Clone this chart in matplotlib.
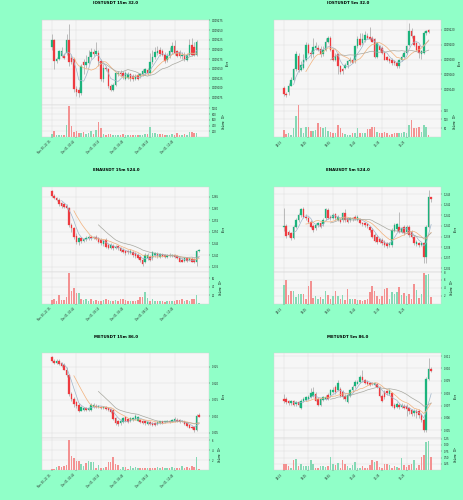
import matplotlib
matplotlib.use("Agg")
import matplotlib.pyplot as plt
import numpy as np
import pandas as pd

# ---- IOSTUSDT 15m (prices in 1e-6 USDT) -----------------------------------
iost15_open = [9206, 9223, 9169, 9175, 9184, 9184, 9190, 9224, 9177, 9174,
               9097, 9095, 9086, 9167, 9160, 9165, 9180, 9192, 9188, 9190,
               9169, 9123, 9152, 9148, 9104, 9096, 9107, 9135, 9140, 9138,
               9124, 9127, 9135, 9131, 9123, 9133, 9130, 9135, 9138, 9146,
               9138, 9167, 9180, 9190, 9199, 9195, 9186, 9172, 9182, 9192,
               9209, 9195, 9192, 9182, 9186, 9172, 9186, 9212, 9207, 9186]
iost15_close = [9223, 9169, 9175, 9195, 9195, 9178, 9224, 9167, 9167, 9097,
                9089, 9086, 9157, 9160, 9167, 9180, 9192, 9188, 9195, 9169,
                9123, 9152, 9148, 9104, 9096, 9107, 9138, 9140, 9135, 9130,
                9138, 9135, 9124, 9123, 9131, 9124, 9135, 9144, 9148, 9138,
                9167, 9180, 9192, 9197, 9189, 9186, 9169, 9182, 9195, 9209,
                9190, 9184, 9182, 9186, 9174, 9186, 9212, 9186, 9186, 9218]
iost15_high = [9241, 9226, 9180, 9199, 9207, 9190, 9241, 9265, 9186, 9178,
               9104, 9102, 9161, 9175, 9186, 9199, 9203, 9201, 9220, 9199,
               9174, 9161, 9157, 9152, 9110, 9114, 9141, 9144, 9146, 9144,
               9144, 9141, 9140, 9135, 9135, 9138, 9140, 9150, 9152, 9152,
               9190, 9199, 9207, 9209, 9207, 9201, 9192, 9190, 9206, 9220,
               9223, 9199, 9199, 9192, 9192, 9190, 9226, 9229, 9220, 9224]
iost15_low = [9199, 9148, 9165, 9172, 9180, 9174, 9186, 9157, 9161, 9089,
              9079, 9076, 9083, 9135, 9152, 9161, 9174, 9182, 9186, 9157,
              9118, 9116, 9144, 9099, 9092, 9093, 9104, 9130, 9130, 9123,
              9121, 9123, 9118, 9118, 9120, 9121, 9126, 9131, 9133, 9133,
              9135, 9161, 9174, 9186, 9184, 9182, 9165, 9168, 9178, 9189,
              9186, 9180, 9178, 9175, 9169, 9169, 9184, 9184, 9182, 9184]
iost15_vol = [118, 212, 59, 82, 59, 71, 435, 1082, 388, 176,
              200, 153, 141, 176, 118, 153, 200, 118, 259, 541,
              318, 94, 82, 94, 94, 71, 59, 59, 82, 94,
              71, 59, 82, 59, 71, 59, 71, 82, 106, 94,
              353, 141, 141, 94, 118, 118, 59, 59, 71, 118,
              82, 141, 71, 59, 94, 71, 176, 165, 153, 141]

# ---- IOSTUSDT 5m (prices in 1e-6 USDT) ------------------------------------
iost5_open = [9142, 9134, 9136, 9145, 9153, 9167, 9185, 9166, 9169, 9180,
              9199, 9189, 9187, 9196, 9196, 9194, 9187, 9193, 9204, 9209,
              9193, 9180, 9187, 9171, 9167, 9169, 9172, 9178, 9180, 9179,
              9198, 9207, 9202, 9206, 9212, 9210, 9209, 9207, 9184, 9198,
              9196, 9189, 9184, 9181, 9180, 9178, 9176, 9171, 9179, 9184,
              9189, 9200, 9218, 9211, 9202, 9198, 9187, 9189, 9216, 9219]
iost5_close = [9134, 9132, 9145, 9153, 9167, 9188, 9166, 9173, 9180, 9200,
               9189, 9187, 9197, 9198, 9193, 9187, 9193, 9204, 9209, 9193,
               9180, 9185, 9171, 9163, 9165, 9173, 9178, 9180, 9176, 9198,
               9207, 9200, 9207, 9213, 9209, 9208, 9204, 9184, 9202, 9193,
               9189, 9180, 9180, 9178, 9176, 9175, 9171, 9179, 9184, 9189,
               9198, 9218, 9211, 9200, 9193, 9189, 9191, 9216, 9218, 9217]
iost5_high = [9145, 9137, 9149, 9156, 9169, 9191, 9189, 9178, 9187, 9203,
              9202, 9193, 9209, 9204, 9200, 9198, 9198, 9209, 9211, 9211,
              9196, 9189, 9189, 9173, 9169, 9176, 9180, 9184, 9182, 9199,
              9211, 9216, 9216, 9218, 9216, 9224, 9211, 9209, 9204, 9200,
              9198, 9191, 9185, 9182, 9182, 9180, 9178, 9181, 9187, 9191,
              9200, 9229, 9222, 9213, 9204, 9200, 9193, 9218, 9220, 9221]
iost5_low = [9131, 9130, 9133, 9144, 9151, 9165, 9163, 9165, 9167, 9178,
             9187, 9182, 9184, 9193, 9191, 9184, 9185, 9191, 9202, 9191,
             9178, 9178, 9160, 9161, 9161, 9167, 9169, 9176, 9175, 9176,
             9196, 9198, 9200, 9204, 9207, 9206, 9203, 9182, 9182, 9191,
             9187, 9179, 9178, 9176, 9173, 9172, 9169, 9169, 9178, 9182,
             9187, 9198, 9209, 9198, 9191, 9182, 9181, 9187, 9213, 9216]
iost5_vol = [39, 16, 25, 10, 49, 118, 180, 49, 24, 59,
             55, 33, 35, 39, 82, 59, 49, 55, 33, 29,
             25, 24, 69, 49, 24, 16, 12, 10, 20, 24,
             53, 24, 25, 25, 43, 43, 55, 59, 29, 24,
             20, 27, 20, 12, 16, 20, 20, 24, 20, 27,
             24, 69, 94, 49, 49, 55, 29, 69, 59, 10]

# ---- ENAUSDT 15m (prices in 1e-4 USDT) ------------------------------------
ena15_open = [12675, 12655, 12646, 12636, 12622, 12617, 12612, 12600, 12529, 12515,
              12483, 12455, 12472, 12460, 12469, 12472, 12479, 12472, 12479, 12475,
              12465, 12446, 12465, 12443, 12432, 12439, 12429, 12439, 12429, 12422,
              12417, 12417, 12407, 12412, 12407, 12400, 12393, 12379, 12372, 12386,
              12393, 12386, 12400, 12403, 12393, 12400, 12400, 12393, 12400, 12396,
              12400, 12397, 12386, 12379, 12374, 12386, 12379, 12382, 12383, 12372,
              12417]
ena15_close = [12655, 12646, 12636, 12617, 12612, 12607, 12603, 12529, 12515, 12479,
               12457, 12472, 12460, 12469, 12475, 12479, 12472, 12479, 12469, 12457,
               12450, 12460, 12436, 12432, 12443, 12429, 12436, 12429, 12417, 12412,
               12407, 12412, 12417, 12400, 12397, 12389, 12379, 12360, 12400, 12400,
               12379, 12412, 12407, 12397, 12403, 12397, 12393, 12400, 12397, 12400,
               12393, 12386, 12372, 12372, 12386, 12374, 12386, 12372, 12369, 12417,
               12420]
ena15_high = [12679, 12660, 12650, 12643, 12629, 12622, 12617, 12607, 12536, 12522,
              12493, 12479, 12479, 12475, 12483, 12486, 12486, 12483, 12486, 12479,
              12472, 12469, 12472, 12450, 12450, 12446, 12443, 12443, 12436, 12429,
              12422, 12422, 12426, 12417, 12412, 12407, 12400, 12386, 12407, 12407,
              12400, 12417, 12415, 12412, 12407, 12407, 12403, 12403, 12407, 12403,
              12403, 12400, 12393, 12386, 12393, 12393, 12389, 12393, 12389, 12422,
              12426]
ena15_low = [12650, 12640, 12632, 12612, 12603, 12600, 12597, 12522, 12500, 12469,
             12446, 12443, 12450, 12455, 12460, 12465, 12466, 12469, 12465, 12450,
             12443, 12440, 12429, 12426, 12426, 12422, 12426, 12422, 12412, 12407,
             12400, 12403, 12403, 12393, 12389, 12383, 12372, 12354, 12364, 12379,
             12374, 12379, 12393, 12389, 12386, 12393, 12386, 12389, 12393, 12392,
             12389, 12383, 12369, 12369, 12372, 12372, 12374, 12369, 12364, 12354,
             12412]
ena15_vol = [8, 12, 6.4, 20, 8, 8, 16, 72, 29, 36,
             25, 26, 12, 8, 10, 5.6, 10, 6.4, 8, 7.2,
             6.4, 8.8, 10, 8, 7.2, 5.6, 8.8, 6.4, 12, 10,
             8, 6.4, 7.2, 6.4, 7.2, 8, 16, 16, 28, 14.4,
             7.2, 10, 7.2, 5.6, 6.4, 5.6, 4.8, 6.4, 5.6, 6.4,
             5.6, 8, 8.8, 10, 6.4, 8, 7.2, 10, 10, 21,
             1]

# ---- ENAUSDT 5m (prices in 1e-5 USDT) -------------------------------------
ena5_open = [123993, 124002, 123946, 123930, 123890, 123993, 124056, 124103, 124159, 124087,
             124071, 124040, 123999, 123977, 124009, 124024, 124015, 124071, 124150, 124087,
             124078, 124109, 124056, 124056, 124056, 124118, 124071, 124056, 124065, 124087,
             124056, 124056, 124024, 124024, 124015, 123993, 123962, 123915, 123899, 123877,
             123868, 123852, 123836, 123821, 123821, 123952, 123971, 123993, 123946, 123993,
             123946, 123993, 123946, 123899, 123827, 123836, 123821, 123836, 123711, 123993,
             124269]
ena5_close = [124002, 123908, 123915, 123883, 123993, 124056, 124103, 124159, 124087, 124071,
              124040, 123993, 123962, 124009, 124024, 123993, 124056, 124159, 124078, 124071,
              124103, 124071, 124087, 124040, 124118, 124056, 124040, 124071, 124071, 124065,
              124087, 124024, 124015, 124009, 124002, 123962, 123899, 123858, 123846, 123852,
              123836, 123821, 123814, 123836, 123962, 124009, 124015, 123946, 123977, 123930,
              123993, 123915, 123899, 123836, 123852, 123821, 123836, 123711, 123993, 124275,
              124250]
ena5_high = [124172, 124015, 123962, 123946, 124009, 124071, 124118, 124172, 124181, 124109,
             124087, 124056, 124015, 124024, 124040, 124040, 124071, 124172, 124165, 124103,
             124118, 124118, 124103, 124071, 124134, 124159, 124087, 124087, 124087, 124103,
             124103, 124071, 124040, 124034, 124024, 124002, 123977, 123930, 123915, 123890,
             123883, 123868, 123852, 123852, 123977, 124024, 124024, 124134, 123993, 124009,
             124009, 124009, 123962, 123915, 123868, 123852, 123852, 123852, 124009, 124338,
             124275]
ena5_low = [123952, 123890, 123899, 123868, 123877, 123977, 124040, 124087, 124071, 124056,
            124024, 123977, 123946, 123962, 123993, 123977, 124002, 124056, 124065, 124056,
            124065, 124056, 124046, 124024, 124040, 124040, 124024, 124040, 124046, 124056,
            124046, 124015, 124002, 123993, 123984, 123946, 123883, 123846, 123827, 123836,
            123821, 123805, 123789, 123805, 123805, 123946, 123952, 123930, 123930, 123915,
            123930, 123899, 123883, 123821, 123814, 123805, 123814, 123648, 123648, 123977,
            124228]
ena5_vol = [4.65, 5.9, 2.1, 3.1, 3.1, 1.7, 2.5, 2.4, 2.5, 1.3,
            4.5, 5.7, 1.4, 1.9, 1.3, 1.7, 1.3, 3.1, 2.1, 1.1,
            1.9, 3.1, 1.9, 1.1, 2.3, 0.85, 3.8, 1.3, 1.1, 1.3,
            0.85, 0.85, 0.6, 0.85, 1.1, 3.0, 4.5, 3.1, 1.9, 1.3,
            1.9, 3.6, 4.0, 1.3, 3.0, 2.5, 3.0, 4.1, 2.1, 2.7,
            1.9, 2.5, 1.1, 5.1, 3.4, 1.4, 2.5, 7.8, 7.2, 7.4,
            1.7]

# ---- METUSDT 15m (prices in 1e-5 USDT) ------------------------------------
met15_open = [32808, 32685, 32603, 32675, 32603, 32552, 32418, 32244, 31680, 31526,
              31423, 31351, 31167, 31187, 31249, 31187, 31187, 31290, 31320, 31269,
              31290, 31249, 31290, 31249, 31218, 31187, 30941, 30838, 30777, 30808,
              30961, 30910, 30838, 30879, 30910, 30859, 30879, 30838, 30838, 30756,
              30808, 30777, 30777, 30756, 30777, 30838, 30808, 30828, 30859, 30828,
              30838, 30879, 30879, 30838, 30838, 30777, 30736, 30674, 30674, 30582,
              31044]
met15_close = [32685, 32603, 32675, 32583, 32521, 32418, 32244, 31659, 31526, 31372,
               31320, 31146, 31290, 31249, 31187, 31249, 31351, 31351, 31269, 31320,
               31249, 31290, 31218, 31187, 31115, 30910, 30777, 30756, 30859, 30941,
               30838, 30808, 30941, 30941, 31013, 30982, 30808, 30777, 30777, 30828,
               30756, 30725, 30725, 30808, 30838, 30777, 30838, 30859, 30808, 30879,
               30910, 30838, 30808, 30859, 30756, 30705, 30654, 30633, 30582, 31013,
               30982]
met15_high = [32829, 32726, 32726, 32726, 32654, 32603, 32480, 32295, 31731, 31577,
              31474, 31392, 31320, 31290, 31290, 31290, 31392, 31392, 31372, 31351,
              31320, 31320, 31320, 31290, 31249, 31218, 30982, 30879, 30910, 30982,
              31013, 30941, 30982, 30982, 31064, 31013, 30910, 30879, 30859, 30859,
              30838, 30808, 30808, 30838, 30859, 30859, 30859, 30879, 30879, 30910,
              30982, 30941, 30910, 30879, 30859, 30808, 30756, 30705, 30705, 31064,
              31085]
met15_low = [32654, 32583, 32583, 32552, 32480, 32398, 32193, 31628, 31474, 31290,
             31249, 31115, 31146, 31146, 31146, 31167, 31167, 31249, 31249, 31249,
             31218, 31218, 31187, 31167, 31085, 30879, 30736, 30705, 30736, 30777,
             30808, 30777, 30808, 30859, 30879, 30838, 30777, 30756, 30736, 30736,
             30725, 30705, 30705, 30736, 30756, 30756, 30777, 30808, 30777, 30808,
             30808, 30808, 30777, 30808, 30736, 30674, 30633, 30602, 30531, 30551,
             30961]
met15_vol = [0.33, 0.33, 0.67, 0.87, 0.67, 0.87, 1.07, 6.0, 2.87, 2.4,
             1.87, 1.87, 1.2, 0.87, 1.53, 1.87, 1.67, 1.67, 0.53, 1.07,
             0.53, 0.53, 0.67, 1.73, 1.73, 2.67, 1.2, 1.0, 0.33, 0.67,
             0.67, 0.33, 0.8, 0.53, 0.67, 0.53, 0.53, 0.53, 0.53, 0.4,
             0.53, 0.53, 0.53, 0.67, 0.53, 0.67, 0.53, 0.53, 0.53, 0.67,
             0.53, 0.4, 0.53, 0.87, 0.4, 0.67, 0.53, 0.87, 0.67, 2.73,
             0.33]

# ---- METUSDT 5m (prices in 1e-5 USDT) -------------------------------------
met5_open = [30754, 30754, 30735, 30718, 30735, 30713, 30727, 30680, 30740, 30746,
             30754, 30768, 30781, 30795, 30754, 30708, 30746, 30754, 30787, 30787,
             30809, 30849, 30828, 30836, 30809, 30781, 30727, 30781, 30822, 30855,
             30877, 30890, 30931, 30909, 30890, 30882, 30882, 30863, 30871, 30844,
             30781, 30809, 30817, 30795, 30800, 30708, 30686, 30708, 30691, 30699,
             30699, 30680, 30664, 30637, 30659, 30659, 30626, 30582, 30500, 30918,
             30999]
met5_close = [30735, 30727, 30718, 30735, 30708, 30732, 30708, 30740, 30754, 30768,
              30768, 30800, 30809, 30740, 30708, 30754, 30768, 30773, 30754, 30822,
              30828, 30809, 30882, 30781, 30768, 30754, 30789, 30822, 30849, 30890,
              30890, 30931, 30904, 30882, 30871, 30863, 30871, 30882, 30849, 30781,
              30740, 30768, 30800, 30822, 30699, 30680, 30713, 30686, 30708, 30680,
              30672, 30659, 30631, 30659, 30637, 30626, 30582, 30500, 30918, 30999,
              30980]
met5_high = [30795, 30768, 30746, 30746, 30746, 30740, 30740, 30754, 30768, 30781,
             30789, 30844, 30849, 30809, 30768, 30762, 30781, 30789, 30800, 30836,
             30849, 30863, 30904, 30849, 30822, 30795, 30800, 30836, 30863, 30904,
             30904, 30945, 30986, 30918, 30904, 30890, 30890, 30890, 30882, 30855,
             30795, 30822, 30828, 30836, 30809, 30718, 30727, 30718, 30718, 30713,
             30713, 30691, 30672, 30672, 30672, 30672, 30637, 30599, 30931, 31081,
             31008]
met5_low = [30718, 30713, 30708, 30708, 30699, 30699, 30691, 30672, 30727, 30735,
            30746, 30762, 30773, 30735, 30699, 30699, 30735, 30746, 30746, 30773,
            30800, 30795, 30817, 30773, 30754, 30735, 30718, 30773, 30809, 30844,
            30871, 30882, 30890, 30871, 30863, 30855, 30863, 30855, 30844, 30773,
            30727, 30754, 30789, 30789, 30686, 30672, 30680, 30672, 30680, 30672,
            30618, 30631, 30618, 30618, 30599, 30599, 30563, 30489, 30489, 30904,
            30972]
met5_vol = [0.24, 0.24, 0.16, 0.1, 0.41, 0.43, 0.16, 0.23, 0.16, 0.16,
            0.16, 0.39, 0.26, 0.1, 0.11, 0.16, 0.18, 0.14, 0.16, 0.54,
            0.24, 0.2, 0.29, 0.1, 0.41, 0.24, 0.16, 0.1, 0.2, 0.33,
            0.11, 0.11, 0.16, 0.08, 0.11, 0.2, 0.39, 0.33, 0.36, 0.14,
            0.11, 0.24, 0.24, 0.2, 0.11, 0.16, 0.14, 0.11, 0.48, 0.2,
            0.14, 0.2, 0.24, 0.41, 0.11, 0.2, 0.51, 0.6, 1.1, 1.16,
            0.54]

# ---- tick labels ----------------------------------------------------------
labels_15m = ["Nov 30, 22:15", "Dec 01, 00:45", "Dec 01, 03:15",
              "Dec 01, 05:45", "Dec 01, 08:15", "Dec 01, 10:45"]
labels_5m = ["08:15", "09:05", "09:55", "10:45", "11:35", "12:25"]

iost15_ticks = [9075, 9100, 9125, 9150, 9175, 9200, 9225, 9250, 9275]
iost5_ticks = [9140, 9160, 9180, 9200, 9220]
ena15_ticks = [12350, 12400, 12450, 12500, 12550, 12600, 12650]
ena5_ticks = [123600, 123700, 123800, 123900, 124000, 124100, 124200, 124300]
met15_ticks = [30500, 31000, 31500, 32000, 32500]
met5_ticks = [30500, 30600, 30700, 30800, 30900, 31000, 31100]

iost15_vticks = [200, 400, 600, 800, 1000]
iost5_vticks = [50, 100, 150]
ena15_vticks = [20, 40, 60]
ena5_vticks = [2, 4, 6, 8]
met15_vticks = [2, 4, 6]
met5_vticks = [0.25, 0.50, 0.75, 1.00, 1.25]

MAVS = (5, 10, 20)

# ---- style ----------------------------------------------------------------
FIG_W, FIG_H = 464, 500
BG = "#90ffc8"
AX_BG = "#f6f6f6"
GRID = "#dedede"
UP, DOWN = "#1bb37c", "#ee3a3f"
VOL_UP, VOL_DOWN = "#86d9b5", "#f39191"
WICK = "#9c9c9c"
MA_COLORS = ["#9fb4c9", "#f2b07a", "#a8a8a0"]
TICK_FS = 1.8


def draw_panel(fig, row, col, title, o, h, l, c, vol, scale, ylim, yticks,
               ydec, vylim, vticks, vfmt, vlabel, xlabels):
    cx = col * FIG_W / 2
    cy = row * FIG_H / 3
    left = (cx + 41.7) / FIG_W
    width = 167.3 / FIG_W
    ax = fig.add_axes([left, 1 - (cy + 105) / FIG_H, width, 85 / FIG_H])
    axv = fig.add_axes([left, 1 - (cy + 137) / FIG_H, width, 32 / FIG_H],
                       sharex=ax)

    o, h, l, c = (np.asarray(a, dtype=float) * scale for a in (o, h, l, c))
    x = np.arange(len(o))
    up = c >= o

    # candles
    ax.vlines(x, l, h, color=WICK, linewidth=0.45, zorder=2)
    body_col = np.where(up, UP, DOWN)
    ax.bar(x, np.abs(c - o), bottom=np.minimum(o, c), width=0.62,
           color=body_col, edgecolor=body_col, linewidth=0.2, zorder=3)

    # moving averages
    closes = pd.Series(c)
    for n, mc in zip(MAVS, MA_COLORS):
        ax.plot(x, closes.rolling(n).mean(), color=mc, linewidth=0.5, zorder=4)

    # volume
    axv.bar(x, vol, width=0.62, color=np.where(up, VOL_UP, VOL_DOWN),
            linewidth=0, zorder=3)

    for a in (ax, axv):
        a.set_facecolor(AX_BG)
        a.set_axisbelow(True)
        a.grid(True, color=GRID, linewidth=0.35)
        a.yaxis.tick_right()
        a.yaxis.set_label_position("right")
        a.tick_params(labelsize=TICK_FS, length=1, width=0.3, pad=1,
                      colors="#222222")
        for sp in a.spines.values():
            sp.set_color("#d4d4d4")
            sp.set_linewidth(0.3)

    ax.set_xlim(-4.1, 64.0)
    ax.set_ylim(ylim[0] * scale, ylim[1] * scale)
    ax.set_yticks([t * scale for t in yticks])
    ax.set_yticklabels([f"{t * scale:.{ydec}f}" for t in yticks])
    ax.set_ylabel("Price", fontsize=TICK_FS, labelpad=2)
    ax.tick_params(labelbottom=False)

    axv.set_ylim(*vylim)
    axv.set_yticks(vticks)
    axv.set_yticklabels([vfmt.format(t) for t in vticks])
    axv.set_ylabel(vlabel, fontsize=TICK_FS, labelpad=2)
    axv.set_xticks(range(0, 60, 10))
    axv.set_xticklabels(xlabels, rotation=45, ha="right")

    fig.text((cx + 116) / FIG_W, 1 - (cy + 3.5) / FIG_H, title,
             ha="center", va="center", fontsize=2.9, fontweight="bold")


fig = plt.figure(figsize=(FIG_W / 100, FIG_H / 100), dpi=100, facecolor=BG)

draw_panel(fig, 0, 0, "IOSTUSDT 15m 32.0", iost15_open, iost15_high,
           iost15_low, iost15_close, iost15_vol, 1e-6, (9056, 9276),
           iost15_ticks, 6, (0, 1117), iost15_vticks, "{:g}",
           "Volume  $10^{6}$", labels_15m)
draw_panel(fig, 0, 1, "IOSTUSDT 5m 32.0", iost5_open, iost5_high,
           iost5_low, iost5_close, iost5_vol, 1e-6, (9119, 9233),
           iost5_ticks, 6, (0, 182), iost5_vticks, "{:g}",
           "Volume  $10^{6}$", labels_5m)
draw_panel(fig, 1, 0, "ENAUSDT 15m 524.0", ena15_open, ena15_high,
           ena15_low, ena15_close, ena15_vol, 1e-4, (12329, 12693),
           ena15_ticks, 3, (0, 75), ena15_vticks, "{:g}",
           "Volume  $10^{5}$", labels_15m)
draw_panel(fig, 1, 1, "ENAUSDT 5m 524.0", ena5_open, ena5_high,
           ena5_low, ena5_close, ena5_vol, 1e-5, (123570, 124369),
           ena5_ticks, 3, (0, 8.1), ena5_vticks, "{:g}",
           "Volume  $10^{5}$", labels_5m)
draw_panel(fig, 2, 0, "METUSDT 15m 86.0", met15_open, met15_high,
           met15_low, met15_close, met15_vol, 1e-5, (30325, 32911),
           met15_ticks, 3, (0, 6.4), met15_vticks, "{:g}",
           "Volume  $10^{5}$", labels_15m)
draw_panel(fig, 2, 1, "METUSDT 5m 86.0", met5_open, met5_high,
           met5_low, met5_close, met5_vol, 1e-5, (30435, 31122),
           met5_ticks, 3, (0, 1.26), met5_vticks, "{:.2f}",
           "Volume  $10^{5}$", labels_5m)

fig.savefig("out.png", dpi=100, facecolor=BG)
